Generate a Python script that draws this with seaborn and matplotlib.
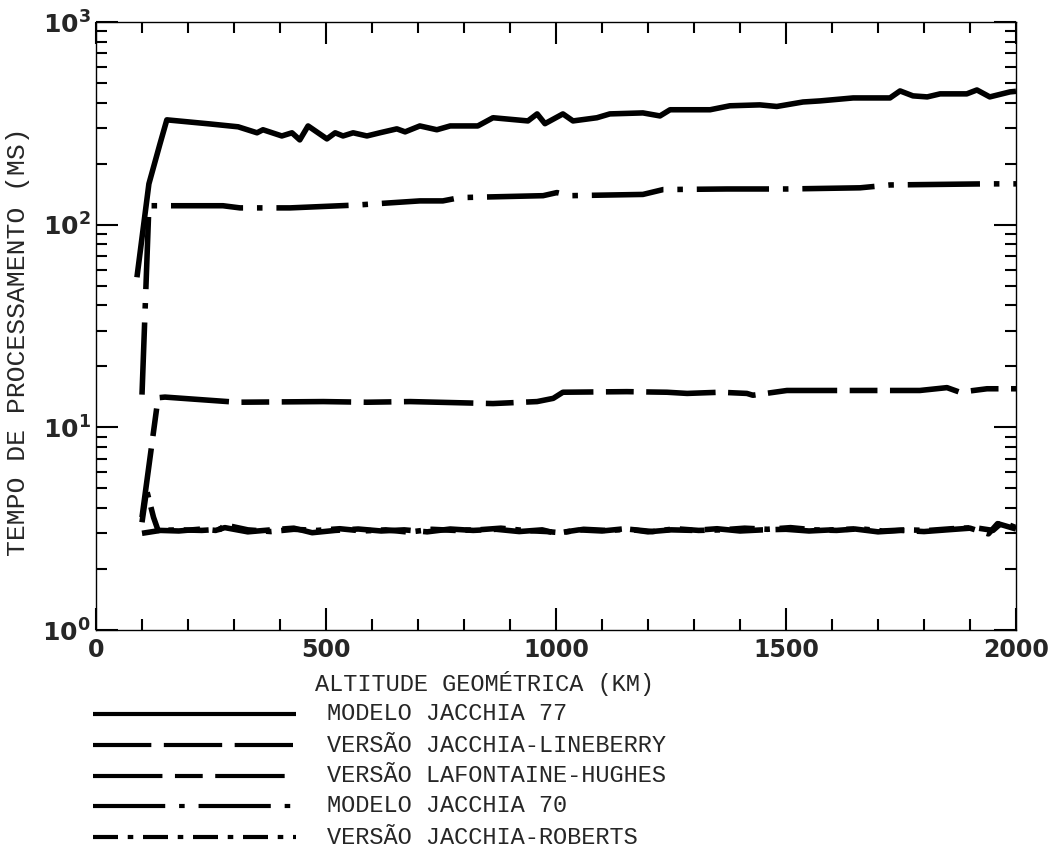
import matplotlib
matplotlib.use('Agg')
import numpy as np
import seaborn as sns
import matplotlib.pyplot as plt
from matplotlib.lines import Line2D
from matplotlib.ticker import MultipleLocator, LogLocator, NullFormatter

# data (altitude in km, time in ms)
alt_j77 = [89, 115, 139, 154, 248, 309, 350, 363, 404, 426, 443, 461, 502, 520, 537, 559, 589,
           617, 654, 672, 704, 741, 770, 830, 863, 939, 959, 976, 1015, 1037, 1089, 1117, 1189,
           1226, 1248, 1335, 1378, 1443, 1480, 1537, 1574, 1646, 1726, 1748, 1776, 1807, 1835,
           1893, 1915, 1943, 1987, 2000]
t_j77 = [55, 159, 250, 329, 314, 304, 284, 294, 274, 284, 262, 307, 265, 284, 274, 284, 274,
         284, 297, 287, 307, 294, 307, 307, 337, 325, 352, 315, 352, 325, 337, 352, 356,
         344, 369, 369, 386, 390, 383, 403, 408, 422, 422, 457, 432, 427, 442,
         442, 462, 427, 452, 455]

alt_j70 = [100, 115, 133, 276, 313, 422, 567, 704, 754, 791, 972, 1002, 1030, 1189, 1233,
           1372, 1502, 1661, 1726, 1937, 2000]
t_j70 = [14.5, 124, 124, 124, 121, 121, 125, 131, 131, 136, 139, 144, 139, 141, 149,
         150, 150, 152, 157, 159, 159]

alt_lh = [100, 135, 150, 306, 494, 589, 683, 863, 959, 994, 1015, 1154, 1241, 1285, 1357,
          1415, 1428, 1502, 1720, 1791, 1850, 1878, 1937, 2000]
t_lh = [3.6, 14.0, 14.1, 13.3, 13.4, 13.3, 13.4, 13.1, 13.4, 13.9, 14.9, 15.0, 14.9, 14.7, 14.9,
        14.7, 14.4, 15.2, 15.2, 15.2, 15.7, 14.9, 15.5, 15.5]

alt_jl = [100, 140, 180, 230, 260, 280, 330, 380, 430, 470, 520, 570, 620, 670, 720, 770, 820,
          870, 920, 970, 1000, 1050, 1100, 1150, 1200, 1250, 1300, 1350, 1400, 1450, 1500, 1550,
          1600, 1650, 1700, 1750, 1800, 1850, 1900, 1940, 1960, 2000]
t_jl = [3.0, 3.1, 3.08, 3.15, 3.1, 3.2, 3.05, 3.12, 3.18, 3.02, 3.1, 3.15, 3.08, 3.12, 3.05, 3.15,
        3.1, 3.14, 3.06, 3.12, 3.0, 3.12, 3.08, 3.16, 3.05, 3.12, 3.1, 3.16, 3.08, 3.12, 3.14,
        3.08, 3.12, 3.15, 3.05, 3.1, 3.06, 3.12, 3.18, 2.98, 3.35, 3.15]

alt_jr = [100, 110, 125, 135, 180, 230, 270, 280, 330, 380, 430, 480, 530, 580, 630, 680, 730,
          780, 830, 880, 930, 980, 1010, 1060, 1110, 1160, 1210, 1260, 1310, 1360, 1410, 1460,
          1510, 1560, 1610, 1660, 1710, 1760, 1810, 1860, 1910, 1950, 1970, 2000]
t_jr = [3.4, 4.9, 3.6, 3.1, 3.12, 3.1, 3.14, 3.3, 3.12, 3.06, 3.14, 3.1, 3.16, 3.08, 3.12, 3.04,
        3.14, 3.1, 3.12, 3.18, 3.1, 3.06, 3.02, 3.14, 3.1, 3.14, 3.06, 3.16, 3.1, 3.12, 3.18,
        3.14, 3.2, 3.12, 3.1, 3.16, 3.08, 3.12, 3.1, 3.16, 3.2, 3.1, 3.4, 3.2]

labels = ['MODELO JACCHIA 77', 'VERSÃO JACCHIA-LINEBERRY', 'VERSÃO LAFONTAINE-HUGHES',
          'MODELO JACCHIA 70', 'VERSÃO JACCHIA-ROBERTS']
x_ticks = [0, 500, 1000, 1500, 2000]
y_ticks = [1, 10, 100, 1000]
y_ticklabels = [r'$\mathbf{10^{0}}$', r'$\mathbf{10^{1}}$', r'$\mathbf{10^{2}}$', r'$\mathbf{10^{3}}$']

sns.set_theme(style='ticks')
plt.rcParams['font.family'] = ['Liberation Mono', 'DejaVu Sans']
plt.rcParams['lines.scale_dashes'] = False
plt.rcParams['mathtext.fontset'] = 'dejavusans'

# line styles (dash patterns in points)
styles = [
    (0, ()),
    (0, (42, 9)),
    (0, (50, 9, 20, 9)),
    (0, (52, 10, 4, 10)),
    (0, (18, 7, 4, 7)),
]
series = [(alt_j77, t_j77), (alt_jl, t_jl), (alt_lh, t_lh), (alt_j70, t_j70), (alt_jr, t_jr)]

W, H = 1058, 848
fig = plt.figure(figsize=(W / 100, H / 100), dpi=100)
ax = fig.add_axes([96 / W, 1 - 630 / H, (1016 - 96) / W, (630 - 22) / H])

for (x, y), ls in zip(series, styles):
    sns.lineplot(x=x, y=y, ax=ax, color='black', linewidth=4, linestyle=ls,
                 estimator=None, sort=False, legend=False)
for line in ax.get_lines():
    line.set_dash_capstyle('butt')
    line.set_solid_capstyle('round')

ax.set_yscale('log')
ax.set_xlim(0, 2000)
ax.set_ylim(1, 1000)
ax.set_xlabel('')
ax.set_ylabel('')

ax.set_xticks(x_ticks, labels=[str(v) for v in x_ticks], fontweight='bold',
              fontfamily='DejaVu Sans', fontsize=17)
ax.xaxis.set_minor_locator(MultipleLocator(100))
ax.set_yticks(y_ticks, labels=y_ticklabels, fontsize=18)
ax.yaxis.set_minor_locator(LogLocator(base=10, subs=np.arange(2, 10)))
ax.yaxis.set_minor_formatter(NullFormatter())

ax.tick_params(which='both', direction='in', top=True, right=True, color='black', width=1.5)
ax.tick_params(which='major', length=16, pad=6)
ax.tick_params(which='minor', length=8)
ax.tick_params(axis='y', which='major', pad=4)
for s in ax.spines.values():
    s.set_linewidth(1.0)
    s.set_color('black')

fig.text(18 / W, 1 - 342 / H, 'TEMPO DE PROCESSAMENTO (MS)', rotation=90,
         ha='center', va='center', fontsize=19)
fig.text(315 / W, 1 - 683 / H, 'ALTITUDE GEOMÉTRICA (KM)', ha='left', va='center', fontsize=17)

# hand-made key below the axes
rows = [714, 745, 776, 806, 837]
for lab, ls, yrow in zip(labels, styles, rows):
    fig.add_artist(Line2D([93 / W, 296 / W], [1 - yrow / H, 1 - yrow / H], color='black',
                          linewidth=3, linestyle=ls, transform=fig.transFigure))
    fig.text(327 / W, 1 - yrow / H, lab, ha='left', va='center', fontsize=17)

fig.savefig('out.png', dpi=100)
